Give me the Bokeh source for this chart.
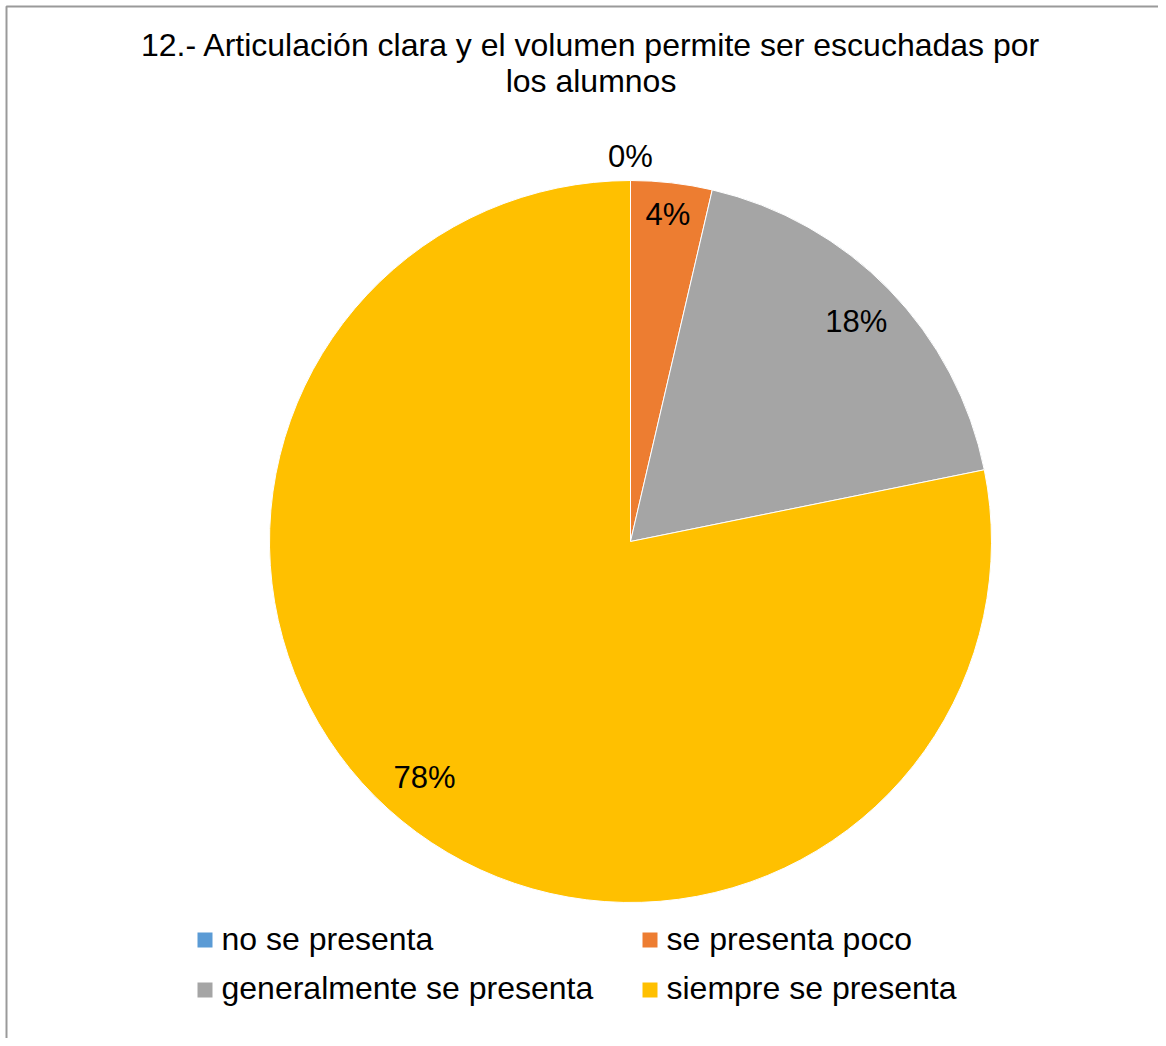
import math
from bokeh.plotting import figure
from bokeh.models import ColumnDataSource, Range1d
from bokeh.core.properties import value
from bokeh.embed import file_html
from bokeh.resources import INLINE

# ---- data ----
title_lines = ["12.- Articulación clara y el volumen permite ser escuchadas por", "los alumnos"]
categories = ["no se presenta", "se presenta poco", "generalmente se presenta", "siempre se presenta"]
counts = [0, 2, 10, 43]
colors = ["#5B9BD5", "#ED7D31", "#A5A5A5", "#FFC000"]

# ---- layout (pixel coordinates; y measured downward) ----
W, H = 1158, 1038
FONT = "Liberation Sans"
DY = 12  # baseline correction for the text rendering

def Y(py):
    return H - py

cx, cy, R = 630, Y(541), 361
label_r = [1.064, 0.908, 0.872, 0.87]
label_da = [0.0, 0.0, 0.0, -0.03]  # small angular nudge (radians)

total = sum(counts)
fracs = [c / total for c in counts]
starts, ends, mids = [], [], []
acc = 0.0
for f in fracs:
    a0 = math.pi / 2 - 2 * math.pi * acc
    acc += f
    a1 = math.pi / 2 - 2 * math.pi * acc
    starts.append(a0)
    ends.append(a1)
    mids.append((a0 + a1) / 2)

p = figure(width=W, height=H, output_backend="svg", toolbar_location=None,
           x_range=Range1d(0, W), y_range=Range1d(0, H),
           min_border=0, outline_line_color=None)
p.axis.visible = False
p.grid.visible = False
p.background_fill_color = "white"
p.border_fill_color = "white"

src = ColumnDataSource(dict(start=starts, end=ends, color=colors))
p.wedge(x=cx, y=cy, radius=R, start_angle="start", end_angle="end", direction="clock",
        fill_color="color", line_color="white", line_width=1, source=src)

lx = [cx + R * r * math.cos(m + d) for r, m, d in zip(label_r, mids, label_da)]
ly = [cy + R * r * math.sin(m + d) for r, m, d in zip(label_r, mids, label_da)]
labels = [f"{round(100 * f)}%" for f in fracs]
p.text(x=lx, y=ly, text=labels, text_align="center", text_baseline="alphabetic", y_offset=11 - DY,
       text_font=value(FONT), text_font_size="31px", text_color="black")

# title
p.text(x=[590.5, 590.5], y=[Y(56 - DY), Y(92 - DY)], text=title_lines, text_align="center",
       text_baseline="alphabetic", text_font=value(FONT), text_font_size="32px", text_color="black")

# legend
leg_x = [197, 642, 197, 642]
leg_sq_y = [Y(939.5), Y(939.5), Y(989.5), Y(989.5)]
leg_txt_y = [Y(950 - DY), Y(950 - DY), Y(999 - DY), Y(999 - DY)]
p.rect(x=[x + 7.5 for x in leg_x], y=leg_sq_y, width=15, height=15, fill_color=colors, line_color=None)
p.text(x=[x + 24 for x in leg_x], y=leg_txt_y, text=categories, text_align="left",
       text_baseline="alphabetic", text_font=value(FONT), text_font_size="32px", text_color="black")

# chart border (top and left visible)
p.line(x=[6, 6, W], y=[0, Y(6), Y(6)], line_color="#9a9a9a", line_width=2)

open("out.html", "w").write(file_html(p, INLINE))
